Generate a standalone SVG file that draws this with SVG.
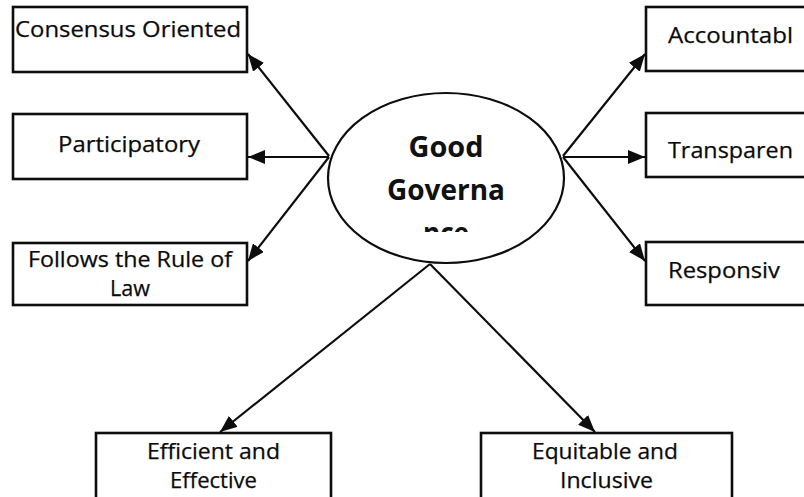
<svg xmlns="http://www.w3.org/2000/svg" width="804" height="497" viewBox="0 0 804 497">
  <style>
    .box { fill: #ffffff; stroke: #0d0d0d; stroke-width: 2.6; }
    .lbl { font-family: "Open Sans", "Liberation Sans", sans-serif; font-size: 22px; fill: #0a0a0a; stroke: #0a0a0a; stroke-width: 0.25; }
    .ctr { font-family: "Open Sans", "Liberation Sans", sans-serif; font-size: 29px; font-weight: bold; fill: #111111; }
    .conn { stroke: #0d0d0d; stroke-width: 2.2; fill: none; marker-end: url(#arrow); }
  </style>
  <defs>
    <marker id="arrow" markerUnits="userSpaceOnUse" markerWidth="18" markerHeight="14" refX="17" refY="7" orient="auto">
      <path d="M0,0 L17,7 L0,14 z" fill="#0d0d0d"/>
    </marker>
    <clipPath id="ellClip">
      <rect x="330" y="90" width="240" height="142"/>
    </clipPath>
  </defs>
  <rect width="804" height="497" fill="#ffffff"/>

  <g id="connectors">
    <line class="conn" x1="329" y1="156" x2="248" y2="54"/>
    <line class="conn" x1="329" y1="157" x2="248" y2="157"/>
    <line class="conn" x1="329" y1="157" x2="248" y2="261"/>
    <line class="conn" x1="563" y1="156" x2="645" y2="54"/>
    <line class="conn" x1="563" y1="157" x2="645" y2="157"/>
    <line class="conn" x1="563" y1="157" x2="645" y2="261"/>
    <line class="conn" x1="430" y1="264" x2="220" y2="432"/>
    <line class="conn" x1="430" y1="264" x2="595" y2="432"/>
  </g>

  <g id="node-center">
    <ellipse cx="446" cy="178" rx="118" ry="85" fill="#ffffff" stroke="#0d0d0d" stroke-width="2.2"/>
    <text class="ctr" x="446" y="157" text-anchor="middle" textLength="75" lengthAdjust="spacingAndGlyphs">Good</text>
    <text class="ctr" x="446" y="200" text-anchor="middle" textLength="118" lengthAdjust="spacingAndGlyphs">Governa</text>
    <text class="ctr" x="446" y="243" text-anchor="middle" textLength="46" lengthAdjust="spacingAndGlyphs" clip-path="url(#ellClip)">nce</text>
  </g>

  <g id="node-consensus">
    <rect class="box" x="13" y="7" width="234" height="65"/>
    <text class="lbl" x="15" y="37" textLength="226" lengthAdjust="spacingAndGlyphs">Consensus Oriented</text>
  </g>
  <g id="node-participatory">
    <rect class="box" x="13" y="114" width="234" height="65"/>
    <text class="lbl" x="58" y="152" textLength="142" lengthAdjust="spacingAndGlyphs">Participatory</text>
  </g>
  <g id="node-rule-of-law">
    <rect class="box" x="13" y="243" width="234" height="62"/>
    <text class="lbl" x="28" y="267" textLength="204" lengthAdjust="spacingAndGlyphs">Follows the Rule of</text>
    <text class="lbl" x="110" y="296" textLength="40" lengthAdjust="spacingAndGlyphs">Law</text>
  </g>

  <g id="node-accountable">
    <rect class="box" x="646" y="7" width="180" height="64"/>
    <text class="lbl" x="668" y="43" textLength="125" lengthAdjust="spacingAndGlyphs">Accountabl</text>
  </g>
  <g id="node-transparent">
    <rect class="box" x="646" y="113" width="180" height="64"/>
    <text class="lbl" x="668" y="158" textLength="125" lengthAdjust="spacingAndGlyphs">Transparen</text>
  </g>
  <g id="node-responsive">
    <rect class="box" x="646" y="242" width="180" height="63"/>
    <text class="lbl" x="668" y="278" textLength="112" lengthAdjust="spacingAndGlyphs">Responsiv</text>
  </g>

  <g id="node-efficient">
    <rect class="box" x="96" y="433" width="235" height="80"/>
    <text class="lbl" x="147" y="459" textLength="133" lengthAdjust="spacingAndGlyphs">Efficient and</text>
    <text class="lbl" x="170" y="488" textLength="87" lengthAdjust="spacingAndGlyphs">Effective</text>
  </g>
  <g id="node-equitable">
    <rect class="box" x="481" y="433" width="251" height="80"/>
    <text class="lbl" x="532" y="459" textLength="146" lengthAdjust="spacingAndGlyphs">Equitable and</text>
    <text class="lbl" x="560" y="488" textLength="93" lengthAdjust="spacingAndGlyphs">Inclusive</text>
  </g>
</svg>
